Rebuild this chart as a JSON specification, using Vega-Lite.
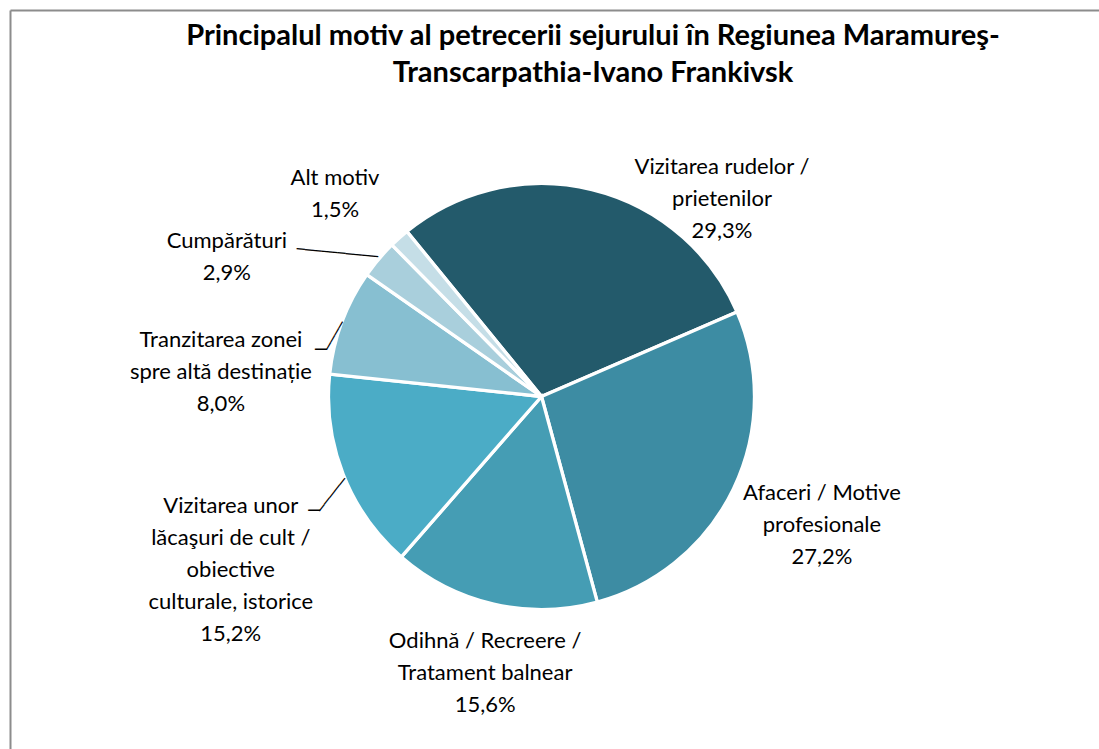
{
  "$schema": "https://vega.github.io/schema/vega-lite/v6.json",
  "width": 1063,
  "height": 773,
  "autosize": {"type": "none"},
  "padding": {"left": 10, "top": 10, "right": 26, "bottom": -34},
  "background": "white",
  "config": {"view": {"stroke": null}, "font": "Lato"},
  "title": {
    "text": ["Principalul motiv al petrecerii sejurului în Regiunea  Maramureş-", "Transcarpathia-Ivano Frankivsk"],
    "font": "Lato", "fontSize": 29, "fontWeight": "bold", "color": "#000000",
    "anchor": "middle", "frame": "group", "dx": 51.5, "offset": -107, "lineHeight": 37, "baseline": "bottom"
  },
  "data": {
    "values": [
      {"idx": 1, "motiv": "Vizitarea rudelor / prietenilor", "valoare": 29.3, "eticheta": "Vizitarea rudelor /\nprietenilor\n29,3%"},
      {"idx": 2, "motiv": "Afaceri / Motive profesionale", "valoare": 27.2, "eticheta": "Afaceri / Motive\nprofesionale\n27,2%"},
      {"idx": 3, "motiv": "Odihnă / Recreere / Tratament balnear", "valoare": 15.6, "eticheta": "Odihnă / Recreere /\nTratament balnear\n15,6%"},
      {"idx": 4, "motiv": "Vizitarea unor lăcaşuri de cult / obiective culturale, istorice", "valoare": 15.2, "eticheta": "Vizitarea unor\nlăcaşuri de cult /\nobiective\nculturale, istorice\n15,2%"},
      {"idx": 5, "motiv": "Tranzitarea zonei spre altă destinație", "valoare": 8.0, "eticheta": "Tranzitarea zonei\nspre altă destinație\n8,0%"},
      {"idx": 6, "motiv": "Cumpărături", "valoare": 2.9, "eticheta": "Cumpărături\n2,9%"},
      {"idx": 7, "motiv": "Alt motiv", "valoare": 1.5, "eticheta": "Alt motiv\n1,5%"}
    ]
  },
  "layer": [
    {
      "mark": {"type": "point", "opacity": 0},
      "encoding": {
        "x": {"field": "valoare", "type": "quantitative", "scale": {"range": [0, 1089]},
              "axis": {"orient": "top", "domainColor": "#8c8c8c", "domainWidth": 2, "ticks": false, "labels": false, "grid": false, "title": null}},
        "y": {"field": "valoare", "type": "quantitative", "scale": {"range": [0, 739]},
              "axis": {"orient": "left", "domainColor": "#8c8c8c", "domainWidth": 2, "ticks": false, "labels": false, "grid": false, "title": null}}
      }
    },
    {
      "encoding": {
        "theta": {"field": "valoare", "type": "quantitative", "stack": true, "scale": {"range": [-0.6842, 5.599]}},
        "order": {"field": "idx", "type": "quantitative"}
      },
      "layer": [
        {
          "mark": {"type": "arc", "outerRadius": 213, "stroke": "#ffffff", "strokeWidth": 3.3},
          "encoding": {
            "color": {"field": "motiv", "type": "nominal", "legend": null,
              "scale": {
                "domain": ["Vizitarea rudelor / prietenilor", "Afaceri / Motive profesionale", "Odihnă / Recreere / Tratament balnear", "Vizitarea unor lăcaşuri de cult / obiective culturale, istorice", "Tranzitarea zonei spre altă destinație", "Cumpărături", "Alt motiv"],
                "range": ["#235a6b", "#3d8ca3", "#459db4", "#4bacc6", "#87bfd1", "#a9cfdc", "#c5dee7"]
              }}
          }
        },
        {
          "mark": {"type": "text", "radius": 236, "dx": 124.6, "dy": -0.2, "align": "center", "baseline": "middle", "lineBreak": "\n", "lineHeight": 32, "fontSize": 22, "font": "Lato", "fill": "#000000"},
          "encoding": {"text": {"condition": {"test": "datum.idx === 1", "field": "eticheta"}, "value": ""}}
        },
        {
          "mark": {"type": "text", "radius": 307.7, "dx": 3.2, "dy": -36.9, "align": "center", "baseline": "middle", "lineBreak": "\n", "lineHeight": 32, "fontSize": 22, "font": "Lato", "fill": "#000000"},
          "encoding": {"text": {"condition": {"test": "datum.idx === 2", "field": "eticheta"}, "value": ""}}
        },
        {
          "mark": {"type": "text", "radius": 281, "dx": 6.7, "dy": -29.3, "align": "center", "baseline": "middle", "lineBreak": "\n", "lineHeight": 32, "fontSize": 22, "font": "Lato", "fill": "#000000"},
          "encoding": {"text": {"condition": {"test": "datum.idx === 3", "field": "eticheta"}, "value": ""}}
        },
        {
          "mark": {"type": "text", "radius": 343, "dx": 8.6, "dy": -16.2, "align": "center", "baseline": "middle", "lineBreak": "\n", "lineHeight": 32, "fontSize": 22, "font": "Lato", "fill": "#000000"},
          "encoding": {"text": {"condition": {"test": "datum.idx === 4", "field": "eticheta"}, "value": ""}}
        },
        {
          "mark": {"type": "text", "radius": 300, "dx": -39.5, "dy": 48.6, "align": "center", "baseline": "middle", "lineBreak": "\n", "lineHeight": 32, "fontSize": 22, "font": "Lato", "fill": "#000000"},
          "encoding": {"text": {"condition": {"test": "datum.idx === 5", "field": "eticheta"}, "value": ""}}
        },
        {
          "mark": {"type": "text", "radius": 330, "dx": -62.4, "dy": 57.5, "align": "center", "baseline": "middle", "lineBreak": "\n", "lineHeight": 32, "fontSize": 22, "font": "Lato", "fill": "#000000"},
          "encoding": {"text": {"condition": {"test": "datum.idx === 6", "field": "eticheta"}, "value": ""}}
        },
        {
          "mark": {"type": "text", "radius": 287, "dx": -14.8, "dy": -4.9, "align": "center", "baseline": "middle", "lineBreak": "\n", "lineHeight": 32, "fontSize": 22, "font": "Lato", "fill": "#000000"},
          "encoding": {"text": {"condition": {"test": "datum.idx === 7", "field": "eticheta"}, "value": ""}}
        },
        {
          "mark": {"type": "text", "radius": 212, "dx": -42.5, "dy": -2.3, "angle": 5.6, "align": "center", "baseline": "middle", "font": "DejaVu Sans Mono", "fontSize": 13.6, "fill": "#000000"},
          "encoding": {"text": {"condition": {"test": "datum.idx === 6", "value": "──────────"}, "value": ""}}
        },
        {
          "mark": {"type": "text", "radius": 212, "dx": -15.8, "dy": -0.1, "angle": -60.3, "align": "center", "baseline": "middle", "font": "DejaVu Sans Mono", "fontSize": 13.4, "fill": "#000000"},
          "encoding": {"text": {"condition": {"test": "datum.idx === 5", "value": "────"}, "value": ""}}
        },
        {
          "mark": {"type": "text", "radius": 212, "dx": -22.1, "dy": 27.7, "align": "center", "baseline": "middle", "font": "DejaVu Sans Mono", "fontSize": 19.4, "fill": "#000000"},
          "encoding": {"text": {"condition": {"test": "datum.idx === 5", "value": "─"}, "value": ""}}
        },
        {
          "mark": {"type": "text", "radius": 212, "dx": -23.8, "dy": 3.9, "angle": -52.05, "align": "center", "baseline": "middle", "font": "DejaVu Sans Mono", "fontSize": 13.8, "fill": "#000000"},
          "encoding": {"text": {"condition": {"test": "datum.idx === 4", "value": "─────"}, "value": ""}}
        },
        {
          "mark": {"type": "text", "radius": 212, "dx": -30.1, "dy": 37.5, "align": "center", "baseline": "middle", "font": "DejaVu Sans Mono", "fontSize": 19.4, "fill": "#000000"},
          "encoding": {"text": {"condition": {"test": "datum.idx === 4", "value": "─"}, "value": ""}}
        }
      ]
    }
  ]
}
